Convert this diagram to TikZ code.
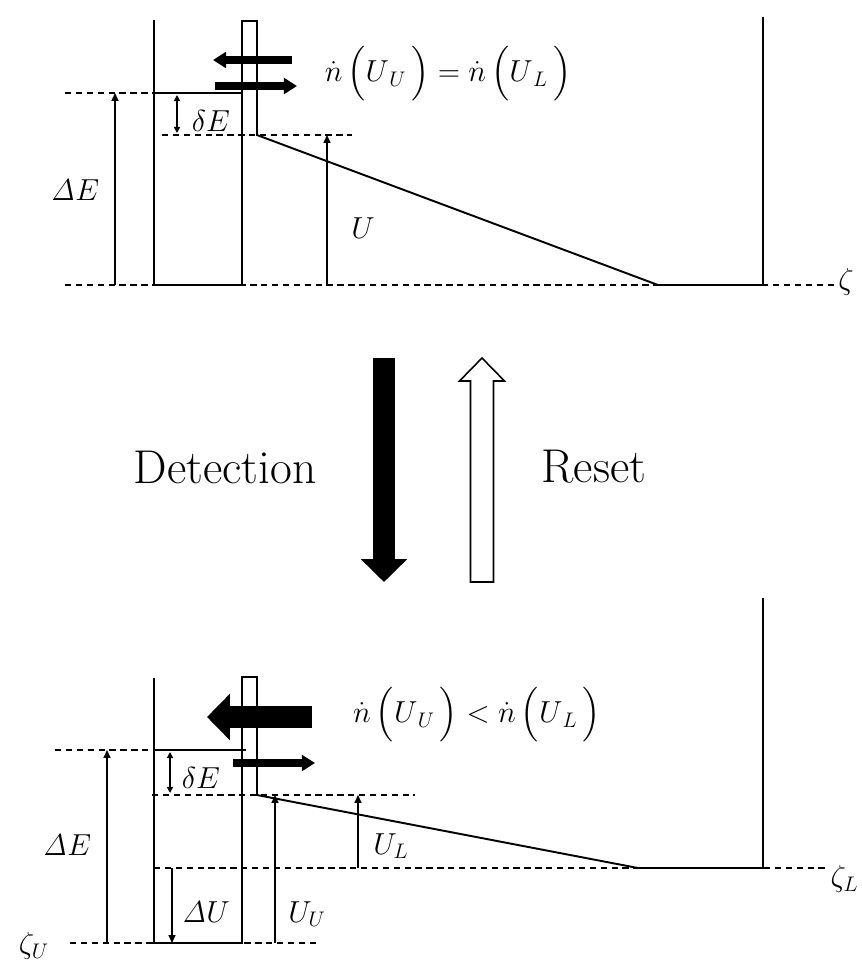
\documentclass[tikz,border=0pt]{standalone}
\usepackage{amsmath}
\usepackage{tikz}
\usetikzlibrary{arrows.meta,positioning,calc}

\begin{document}
\begin{tikzpicture}[
  x=0.02cm, y=-0.02cm,
  wall/.style={line width=1.1pt, line join=miter},
  level/.style={line width=1pt, dash pattern=on 3.6pt off 2.6pt},
  meas/.style={line width=0.8pt, -{Triangle[length=4.5pt,width=4pt]}},
  twoway/.style={line width=0.8pt, {Triangle[length=3.5pt,width=3.5pt]}-{Triangle[length=3.5pt,width=3.5pt]}},
  flux/.style={line width=5pt, -{Triangle[length=7.5pt,width=9pt]}},
  bigflux/.style={line width=13pt, -{Triangle[length=13pt,width=25.6pt]}},
  lbl/.style={inner sep=0pt, font=\fontsize{17}{20}\selectfont},
  rate/.style={inner sep=0pt, font=\fontsize{18}{22}\selectfont},
  word/.style={inner sep=0pt, font=\fontsize{27}{32}\selectfont}
]
\useasboundingbox (0,0) rectangle (862,965);

% ---- upper panel: equilibrium ----
\coordinate (uFloorL) at (154,285);
\coordinate (uFloorR) at (242,285);
\coordinate (uTop)    at (257,135);
\coordinate (uFoot)   at (658,285);
\coordinate (uRight)  at (763,285);
\coordinate (uLevL)   at (154,93);
\coordinate (uLevR)   at (242,93);

\draw[level] (65,285) -- (835,285);
\draw[level] (65,93) -- (uLevL);
\draw[level] (162,135) -- (352,135);
\draw[wall] (154,20) -- (uFloorL) -- (uFloorR) -- (242,21) -- (257,21) -- (uTop)
  -- (uFoot) -- (uRight) -- (763,17);
\draw[wall] (uLevL) -- (uLevR);

\coordinate (uE0) at (115,285);  \coordinate (uE1) at (115,93);
\coordinate (ud0) at (177,95);   \coordinate (ud1) at (177,133);
\coordinate (uU0) at (327,285);  \coordinate (uU1) at (327,135);
\draw[meas] (uE0) -- (uE1);
\draw[twoway] (ud0) -- (ud1);
\draw[meas] (uU0) -- (uU1);

\node[lbl] (uDE) at (75,190) {$\mathit{\Delta} E$};
\node[lbl] (udE) at (211,121) {$\delta E$};
\node[lbl] (uUl) at (363,228) {$U$};
\node[lbl] (uz)  at (846,282) {$\zeta$};

\coordinate (uo0) at (292,60);  \coordinate (uo1) at (213,60);
\coordinate (ui0) at (215,86);  \coordinate (ui1) at (297,86);
\draw[flux] (uo0) -- (uo1);
\draw[flux] (ui0) -- (ui1);
\node[rate] (urate) at (448,74)
  {$\dot{n}\,\Bigl(U_{\,U}\,\Bigr)=\dot{n}\,\Bigl(U_{\,L}\,\Bigr)$};

% ---- transition arrows ----
\coordinate (det0) at (384,358);  \coordinate (det1) at (384,582);
\draw[line width=12.5pt, -{Triangle[length=13pt,width=25.6pt]}] (det0) -- (det1);
\draw[line width=0.9pt, fill=white] (482,358) -- (504.5,381) -- (493.5,381)
  -- (493.5,582) -- (470.5,582) -- (470.5,381) -- (459.5,381) -- cycle;
\node[word] (detect) at (225,467) {Detection};
\node[word] (reset)  at (594,467) {Reset};

% ---- lower panel: detection ----
\coordinate (lFloorL) at (154,943);
\coordinate (lFloorR) at (242,943);
\coordinate (lTop)    at (257,795);
\coordinate (lFoot)   at (638,868);
\coordinate (lRight)  at (763,868);
\coordinate (lLevL)   at (154,750);
\coordinate (lLevR)   at (246,750);

\draw[level] (70,943) -- (320,943);
\draw[level] (154,868) -- (829,868);
\draw[level] (152,795) -- (415,795);
\draw[level] (55,750) -- (lLevL);
\draw[wall] (154,678) -- (lFloorL) -- (lFloorR) -- (242,677) -- (257,677) -- (lTop)
  -- (lFoot) -- (lRight) -- (763,598);
\draw[wall] (lLevL) -- (lLevR);

\coordinate (lE0) at (107,943);  \coordinate (lE1) at (107,750);
\coordinate (ld0) at (170,752);  \coordinate (ld1) at (170,793);
\coordinate (lV0) at (172,868);  \coordinate (lV1) at (172,943);
\coordinate (lUU0) at (275,943); \coordinate (lUU1) at (275,795);
\coordinate (lUL0) at (358,868); \coordinate (lUL1) at (358,795);
\draw[meas] (lE0) -- (lE1);
\draw[twoway] (ld0) -- (ld1);
\draw[meas] (lV0) -- (lV1);
\draw[meas] (lUU0) -- (lUU1);
\draw[meas] (lUL0) -- (lUL1);

\node[lbl] (lDE) at (67,845) {$\mathit{\Delta} E$};
\node[lbl] (ldE) at (201,778) {$\delta E$};
\node[lbl] (lDU) at (206,912) {$\mathit{\Delta} U$};
\node[lbl] (lUUl) at (307,914) {$U_{U}$};
\node[lbl] (lULl) at (391,846) {$U_{L}$};
\node[lbl] (lzU) at (34,946) {$\zeta_{U}$};
\node[lbl, anchor=east] (lzL) at (859,879) {$\zeta_{L}$};

\coordinate (lo0) at (312,717);  \coordinate (lo1) at (207,717);
\coordinate (li0) at (233,763);  \coordinate (li1) at (315,763);
\draw[bigflux] (lo0) -- (lo1);
\draw[flux] (li0) -- (li1);
\node[rate] (lrate) at (477,715)
  {$\dot{n}\,\Bigl(U_{\,U}\,\Bigr)<\dot{n}\,\Bigl(U_{\,L}\,\Bigr)$};
\end{tikzpicture}
\end{document}
